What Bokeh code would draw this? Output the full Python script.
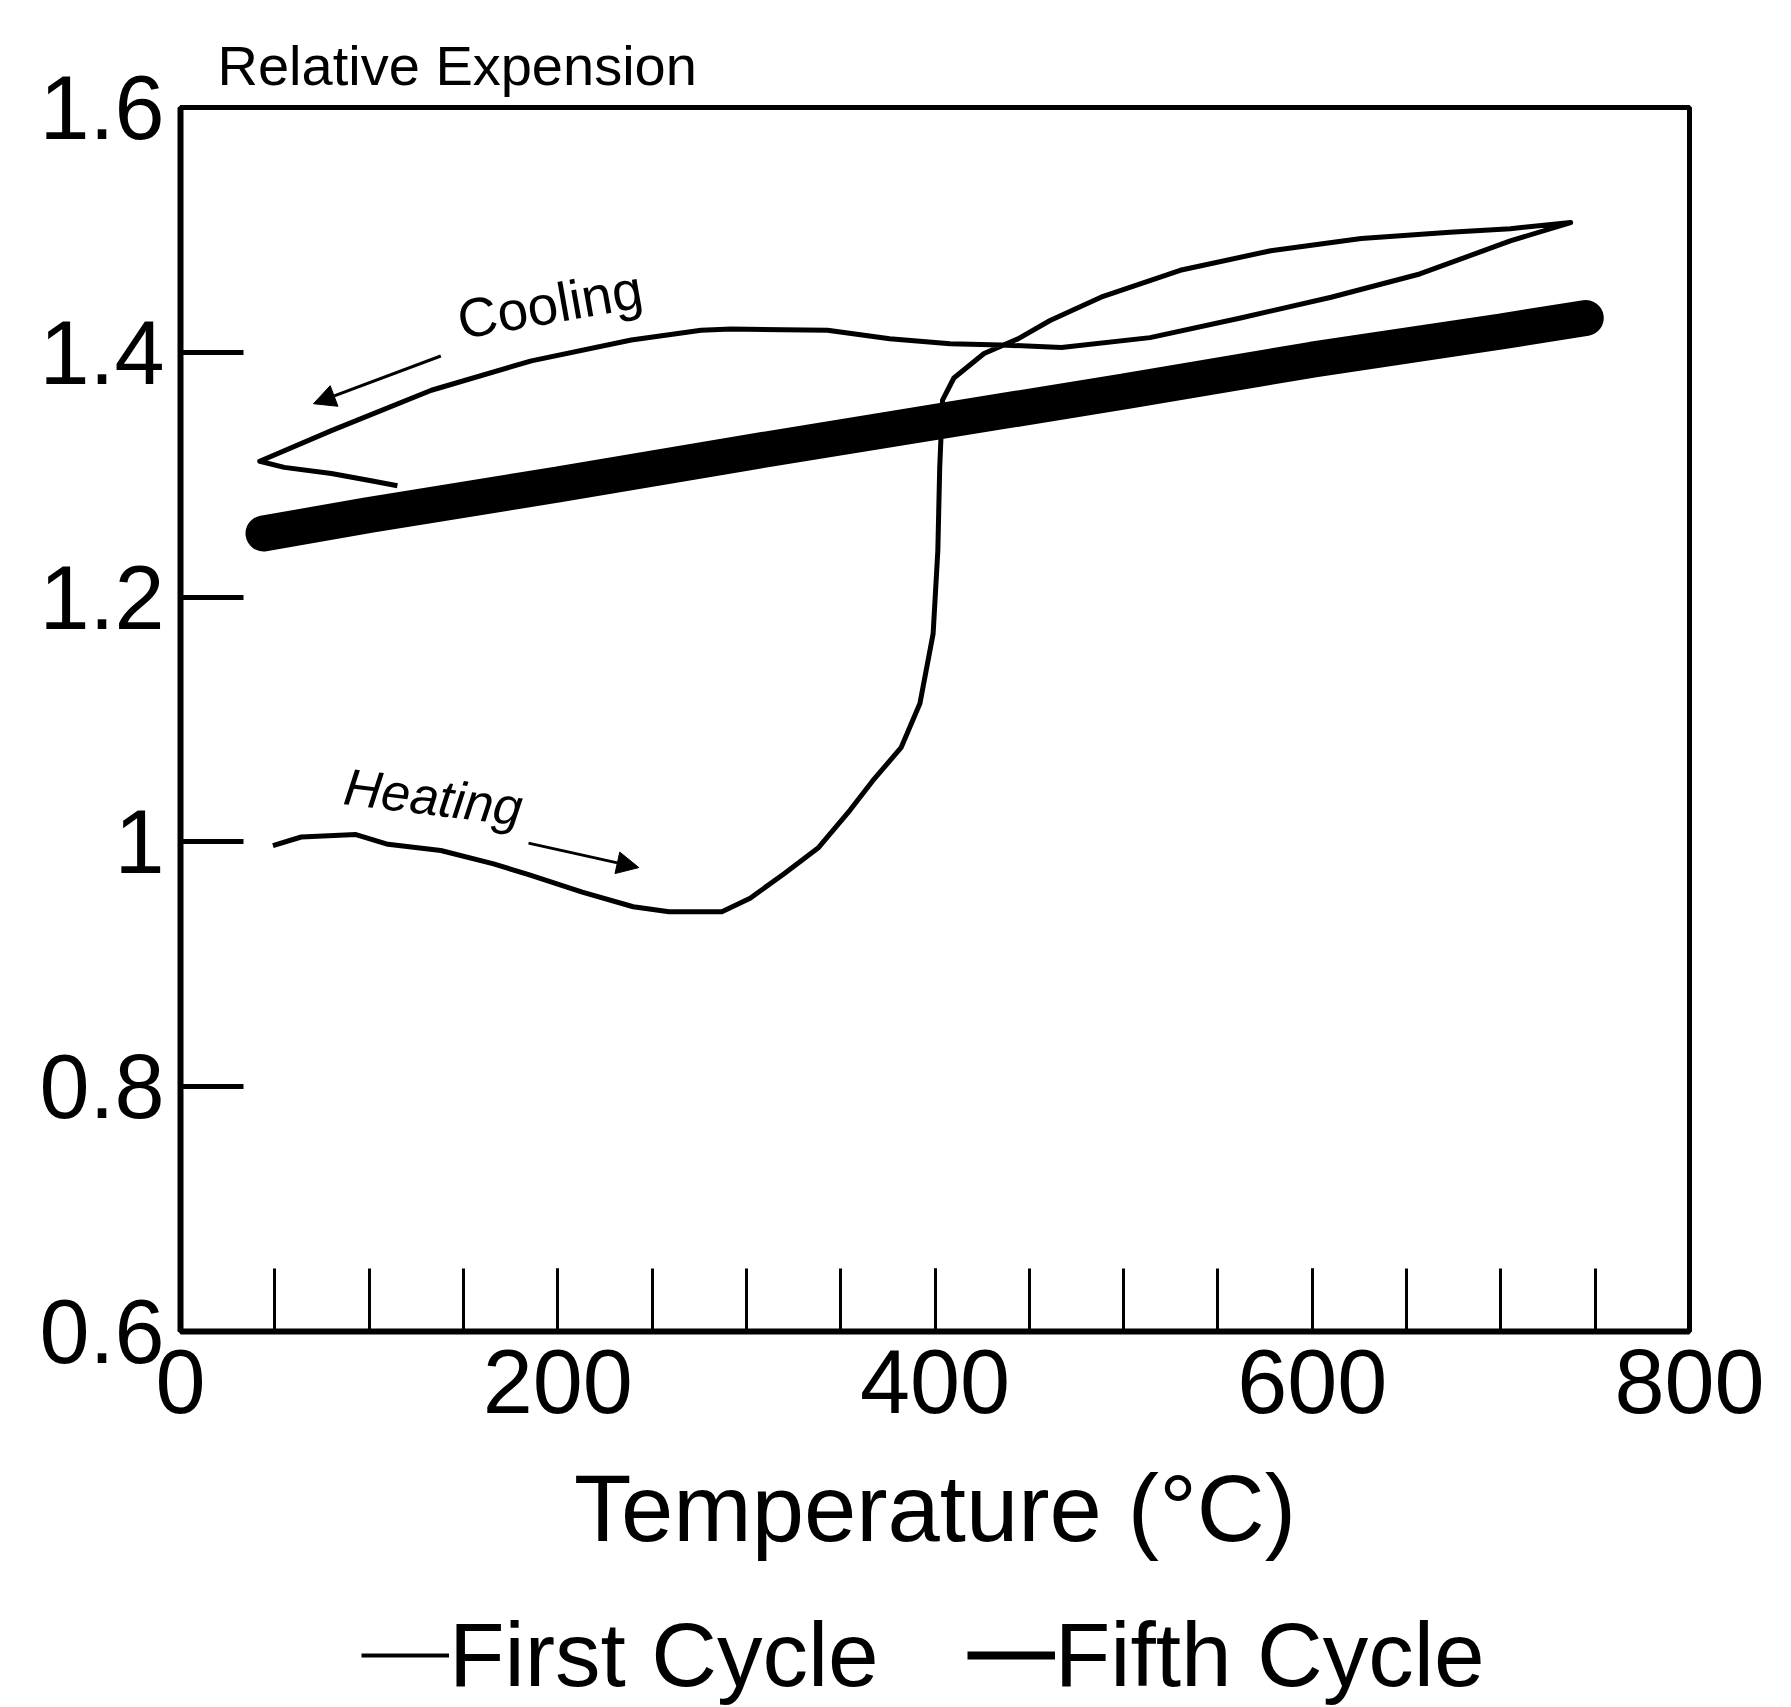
from bokeh.plotting import figure
from bokeh.layouts import column
from bokeh.models import (Range1d, FixedTicker, CustomJSTickFormatter, Legend, LegendItem,
                          ColumnDataSource, Label, Arrow, NormalHead)
from bokeh.embed import file_html
from bokeh.resources import INLINE

# ---------------- data ----------------
first_heat_t = [49, 64, 93, 110, 138, 166, 185, 213, 240, 259, 287, 302, 320, 338, 355,
                367, 382, 392, 399, 401.5, 402.5, 404, 410, 426, 444, 461, 488, 530, 578,
                626, 673, 705, 737]
first_heat_e = [0.997, 1.004, 1.006, 0.998, 0.993, 0.982, 0.973, 0.959, 0.947, 0.943, 0.943,
                0.954, 0.974, 0.995, 1.026, 1.050, 1.077, 1.113, 1.170, 1.238, 1.306, 1.361,
                1.379, 1.399, 1.411, 1.426, 1.445, 1.467, 1.483, 1.493, 1.498, 1.501, 1.506]
first_cool_t = [737, 705, 657, 610, 562, 514, 467, 435, 408, 376, 343, 292, 276, 239, 186,
                133, 80, 42, 55, 80, 101, 115]
first_cool_e = [1.506, 1.491, 1.464, 1.445, 1.428, 1.412, 1.404, 1.406, 1.407, 1.411, 1.418,
                1.419, 1.418, 1.410, 1.393, 1.369, 1.336, 1.311, 1.306, 1.301, 1.295, 1.291]
fifth_t = [44, 100, 200, 300, 400, 500, 600, 700, 745]
fifth_e = [1.252, 1.267, 1.292, 1.318, 1.343, 1.368, 1.394, 1.417, 1.428]

x_major_ticks = [0, 200, 400, 600, 800]
x_minor_ticks = [50, 100, 150, 200, 250, 300, 350, 400, 450, 500, 550, 600, 650, 700, 750]
y_ticks = [0.6, 0.8, 1.0, 1.2, 1.4, 1.6]
y_tick_labels = ["0.6", "0.8", "1", "1.2", "1.4", "1.6"]

series_names = ["First Cycle", "Fifth Cycle"]
title_text = "Relative Expension"
x_label = "Temperature (°C)"
# -------------------------------------------------------------

FONT = "Liberation Sans"
INK = "black"
W = 1791
H_MAIN = 1595
H_LEG = 1707 - H_MAIN

p = figure(width=W, height=H_MAIN, output_backend="svg", toolbar_location=None,
           x_range=Range1d(0, 800), y_range=Range1d(0.6, 1.6),
           min_border_left=180, min_border_right=102, min_border_top=107,
           min_border_bottom=H_MAIN - 1331)
p.background_fill_color = "white"
p.border_fill_color = "white"
p.xgrid.visible = False
p.ygrid.visible = False
p.outline_line_color = INK
p.outline_line_width = 5

# title
p.title.text = title_text
p.title.text_font = FONT
p.title.text_font_size = "56px"
p.title.text_font_style = "normal"
p.title.text_color = INK
p.title.align = "left"
p.title.offset = 37
p.title.standoff = 22

# x axis
xa = p.xaxis[0]
xa.ticker = FixedTicker(ticks=x_major_ticks, minor_ticks=x_minor_ticks)
xa.axis_line_width = 6
xa.axis_line_color = INK
xa.major_tick_in = 63
xa.major_tick_out = 0
xa.minor_tick_in = 63
xa.minor_tick_out = 0
xa.major_tick_line_width = 3
xa.minor_tick_line_width = 3
xa.major_tick_line_color = INK
xa.minor_tick_line_color = INK
xa.major_label_text_font = FONT
xa.major_label_text_font_size = "90px"
xa.major_label_text_color = INK
xa.major_label_standoff = 18
xa.axis_label = x_label
xa.axis_label_text_font = FONT
xa.axis_label_text_font_size = "94px"
xa.axis_label_text_font_style = "normal"
xa.axis_label_text_color = INK
xa.axis_label_standoff = 40

# y axis
ya = p.yaxis[0]
ya.ticker = FixedTicker(ticks=y_ticks)
keys = []
for v in y_ticks:
    s = repr(float(v))
    if s.endswith(".0"):
        s = s[:-2]
    keys.append(s)
js_map = "{" + ",".join('"%s":"%s"' % (k, lab) for k, lab in zip(keys, y_tick_labels)) + "}"
ya.formatter = CustomJSTickFormatter(
    code="const m = %s; const k = String(tick); return (k in m) ? m[k] : k;" % js_map)
ya.axis_line_width = 6
ya.axis_line_color = INK
ya.major_tick_in = 63
ya.major_tick_out = 0
ya.major_tick_line_width = 5
ya.major_tick_line_color = INK
ya.minor_tick_line_color = None
ya.major_label_text_font = FONT
ya.major_label_text_font_size = "90px"
ya.major_label_text_color = INK
ya.major_label_standoff = 16

# series
src_first = ColumnDataSource(data=dict(t=first_heat_t + first_cool_t,
                                       e=first_heat_e + first_cool_e))
src_fifth = ColumnDataSource(data=dict(t=fifth_t, e=fifth_e))
p.line("t", "e", source=src_fifth, line_color=INK, line_width=36, line_cap="round")
p.line("t", "e", source=src_first, line_color=INK, line_width=5, line_join="round")

# annotations
p.add_layout(Label(x=150, y=1.401, text="Cooling", angle=10, angle_units="deg",
                   text_font=FONT, text_font_size="55px", text_color=INK))
p.add_layout(Label(x=85, y=1.022, text="Heating", angle=-7, angle_units="deg",
                   text_font=FONT, text_font_size="52px", text_font_style="italic",
                   text_color=INK))
p.add_layout(Arrow(end=NormalHead(size=22, fill_color=INK, line_color=INK),
                   x_start=138, y_start=1.397, x_end=70.5, y_end=1.358,
                   line_width=3, line_color=INK))
p.add_layout(Arrow(end=NormalHead(size=22, fill_color=INK, line_color=INK),
                   x_start=184.5, y_start=0.999, x_end=243, y_end=0.979,
                   line_width=3, line_color=INK))

# legend strip below the chart (same series, drawn out of its view; only the key shows)
leg = figure(width=W, height=H_LEG, output_backend="svg", toolbar_location=None,
             x_axis_type=None, y_axis_type=None,
             x_range=Range1d(0, 800), y_range=Range1d(10, 11),
             min_border=0)
leg.outline_line_color = None
leg.xgrid.visible = False
leg.ygrid.visible = False
leg.background_fill_color = "white"
leg.border_fill_color = "white"
k1 = leg.line("t", "e", source=src_first, line_color=INK, line_width=4)
k5 = leg.line("t", "e", source=src_fifth, line_color=INK, line_width=8)
legend = Legend(items=[LegendItem(label=series_names[0], renderers=[k1]),
                       LegendItem(label=series_names[1], renderers=[k5])],
                orientation="horizontal", location=(181, 0))
legend.label_text_font = FONT
legend.label_text_font_size = "91px"
legend.label_text_color = INK
legend.glyph_width = 88
legend.glyph_height = 40
legend.label_standoff = 0
legend.spacing = 88
legend.padding = 0
legend.margin = 0
legend.border_line_color = None
legend.background_fill_alpha = 0
leg.add_layout(legend, "center")

page = column(p, leg, spacing=0)
open("out.html", "w").write(file_html(page, INLINE))
